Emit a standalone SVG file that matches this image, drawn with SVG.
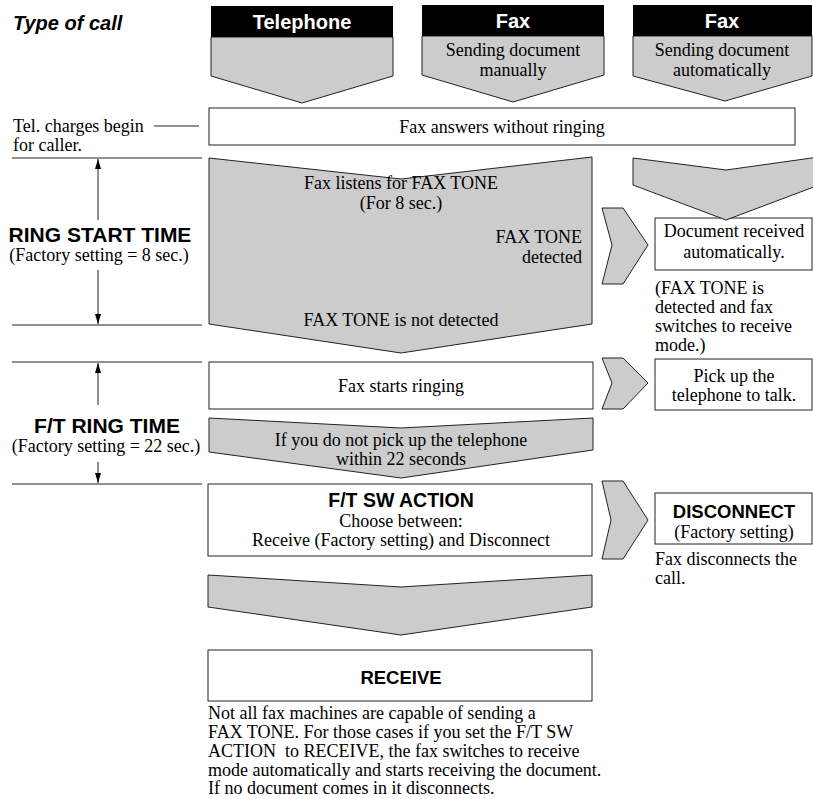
<svg xmlns="http://www.w3.org/2000/svg" width="813" height="799" viewBox="0 0 813 799">
<defs>
<style>
.s{font-family:"Liberation Serif","Times New Roman",serif;font-size:18px;fill:#000}
.b{font-family:"Liberation Sans",Arial,sans-serif;font-weight:bold;fill:#000}
.w{fill:#fff}
.box{fill:#fff;stroke:#222;stroke-width:1}
.g{fill:#cccccc;stroke:#222;stroke-width:1}
.hd{fill:#000}
.ln{stroke:#222;stroke-width:1;fill:none}
.m{text-anchor:middle}
.e{text-anchor:end}
</style>
<marker id="ah" viewBox="0 0 10 6" refX="10" refY="3" markerWidth="10" markerHeight="6" orient="auto" markerUnits="userSpaceOnUse">
<path d="M0,0 L10,3 L0,6 z" fill="#000"/>
</marker>
</defs>
<rect width="813" height="799" fill="#fff"/>

<text class="b" x="13" y="30" font-size="20" font-style="italic">Type of call</text>

<g id="hdr-telephone">
<polygon class="g" points="211,37 393,37 393,76 302,103 211,76"/>
<rect class="hd" x="211" y="6" width="182" height="31"/>
<text class="b w m" x="302" y="29" font-size="20">Telephone</text>
</g>

<g id="hdr-fax-manual">
<polygon class="g" points="422,36 604,36 604,75 513,102 422,75"/>
<rect class="hd" x="422" y="5" width="182" height="31"/>
<text class="b w m" x="513" y="28" font-size="20">Fax</text>
<text class="s m" x="513" y="56">Sending document</text>
<text class="s m" x="513" y="76">manually</text>
</g>

<g id="hdr-fax-auto">
<polygon class="g" points="633,36 812,36 812,76 725,101 633,76"/>
<rect class="hd" x="633" y="5" width="179" height="31"/>
<text class="b w m" x="722" y="28" font-size="20">Fax</text>
<text class="s m" x="722" y="56">Sending document</text>
<text class="s m" x="722" y="76">automatically</text>
</g>

<g id="note-charges">
<text class="s" x="13" y="132">Tel. charges begin</text>
<text class="s" x="13" y="151">for caller.</text>
</g>

<g id="answers">
<rect class="box" x="209" y="108" width="586" height="37"/>
<text class="s m" x="502" y="133">Fax answers without ringing</text>
</g>

<g id="label-ring-start">
<text class="b m" x="100" y="242" font-size="21">RING START TIME</text>
<text class="s m" x="99" y="261">(Factory setting = 8 sec.)</text>
</g>

<g id="label-ft-ring">
<text class="b m" x="107" y="433" font-size="21">F/T RING TIME</text>
<text class="s m" x="106" y="452">(Factory setting = 22 sec.)</text>
</g>

<g id="listens">
<polygon class="g" points="209,158 401,179 592,157 592,324 401,353 209,324"/>
<text class="s m" x="401" y="189">Fax listens for FAX TONE</text>
<text class="s m" x="401" y="209">(For 8 sec.)</text>
<text class="s e" x="582" y="243">FAX TONE</text>
<text class="s e" x="582" y="263">detected</text>
<text class="s m" x="401" y="326">FAX TONE is not detected</text>
</g>

<g id="doc-received">
<rect class="box" x="655" y="218" width="157" height="52"/>
<text class="s m" x="734" y="237">Document received</text>
<text class="s m" x="734" y="258">automatically.</text>
<text class="s" x="655" y="294">(FAX TONE is</text>
<text class="s" x="655" y="313">detected and fax</text>
<text class="s" x="655" y="332">switches to receive</text>
<text class="s" x="655" y="351">mode.)</text>
</g>

<g id="starts-ringing">
<rect class="box" x="209" y="362" width="384" height="47"/>
<text class="s m" x="401" y="392">Fax starts ringing</text>
</g>

<g id="pick-up">
<rect class="box" x="655" y="359" width="157" height="51"/>
<text class="s m" x="734" y="382">Pick up the</text>
<text class="s m" x="734" y="401">telephone to talk.</text>
</g>

<g id="no-pickup">
<polygon class="g" points="209,418 401,428 593,418 593,450 401,478 209,452"/>
<text class="s m" x="401" y="446">If you do not pick up the telephone</text>
<text class="s m" x="401" y="465">within 22 seconds</text>
</g>

<g id="ft-sw-action">
<rect class="box" x="208" y="484" width="384" height="72"/>
<text class="b m" x="401" y="507" font-size="19.5">F/T SW ACTION</text>
<text class="s m" x="401" y="527">Choose between:</text>
<text class="s m" x="401" y="546">Receive (Factory setting) and Disconnect</text>
</g>

<g id="disconnect">
<rect class="box" x="655" y="493" width="157" height="51"/>
<text class="b m" x="734" y="518" font-size="18.5">DISCONNECT</text>
<text class="s m" x="734" y="538">(Factory setting)</text>
<text class="s" x="655" y="565">Fax disconnects the</text>
<text class="s" x="655" y="584">call.</text>
</g>

<g id="receive">
<rect class="box" x="208" y="650" width="384" height="51"/>
<text class="b m" x="401" y="684" font-size="18.5">RECEIVE</text>
<text class="s" x="208" y="719">Not all fax machines are capable of sending a</text>
<text class="s" x="208" y="738">FAX TONE. For those cases if you set the F/T SW</text>
<text class="s" x="208" y="757" style="white-space:pre">ACTION  to RECEIVE, the fax switches to receive</text>
<text class="s" x="208" y="776">mode automatically and starts receiving the document.</text>
<text class="s" x="208" y="794">If no document comes in it disconnects.</text>
</g>

<g id="connectors">
<line class="ln" x1="154" y1="126" x2="199" y2="126"/>
<line class="ln" x1="12" y1="158" x2="202" y2="158"/>
<line class="ln" x1="12" y1="325" x2="202" y2="325"/>
<line class="ln" x1="12" y1="362" x2="202" y2="362"/>
<line class="ln" x1="12" y1="484" x2="202" y2="484"/>
<line class="ln" x1="98" y1="220" x2="98" y2="159" marker-end="url(#ah)"/>
<line class="ln" x1="98" y1="270" x2="98" y2="324" marker-end="url(#ah)"/>
<line class="ln" x1="98" y1="405" x2="98" y2="363" marker-end="url(#ah)"/>
<line class="ln" x1="98" y1="462" x2="98" y2="483" marker-end="url(#ah)"/>
<polygon class="g" points="633,158 726,170 819,157 819,185 726,220 633,185"/>
<polygon class="g" points="602,208 623,208 648,245 623,284 602,284 612,245"/>
<polygon class="g" points="602,358 623,358 648,383 623,409 602,409 612,383"/>
<polygon class="g" points="602,481 623,481 648,520 623,559 602,559 611,520"/>
<polygon class="g" points="208,575 401,587 592,575 592,607 401,635 208,607"/>
</g>
</svg>
